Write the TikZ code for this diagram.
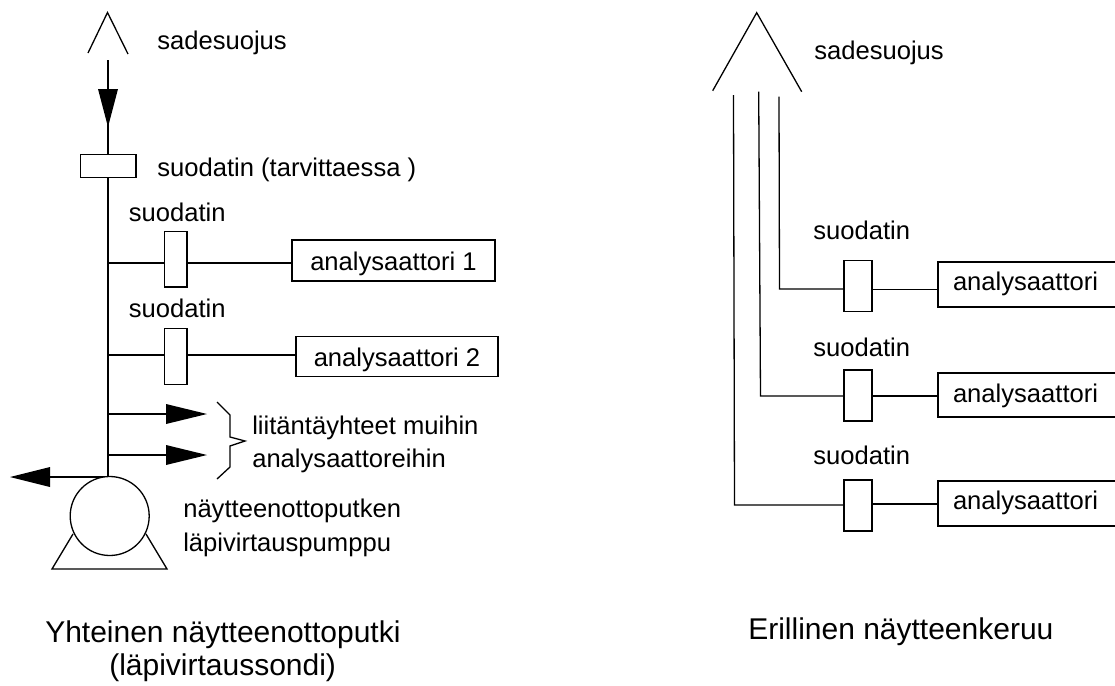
\documentclass[tikz,border=0pt]{standalone}
\usepackage{fontspec}
\setmainfont{Liberation Sans}
\newcommand{\smallfs}{\fontsize{19.2pt}{23pt}\selectfont}
\newcommand{\bigfs}{\fontsize{22.5pt}{27pt}\selectfont}
\tikzset{
  pipe/.style={draw=black,line width=1.5*0.75pt,line join=miter},
  thin pipe/.style={draw=black,line width=1.3*0.75pt,line join=miter},
  head/.style={fill=black,draw=none},
  txt/.style={anchor=base west,inner sep=0pt,font=\smallfs,text=black},
  caption/.style={anchor=base west,inner sep=0pt,font=\bigfs,text=black},
  filterbox/.style={draw=black,fill=white,line width=1.3*0.75pt,rectangle,inner sep=0pt,minimum width=22.5*0.75pt,minimum height=55.5*0.75pt},
  filterboxr/.style={draw=black,fill=white,line width=1.3*0.75pt,rectangle,inner sep=0pt,minimum width=28*0.75pt,minimum height=51*0.75pt},
  anabox/.style={draw=black,fill=white,line width=1.3*0.75pt,rectangle,inner xsep=0pt,inner ysep=0pt,font=\smallfs,text=black,align=center},
  anaboxr/.style={anabox,inner xsep=15*0.75pt,text width=150*0.75pt,align=left},
}
\begin{document}
\begin{tikzpicture}[x=0.75pt,y=-0.75pt]
\useasboundingbox (0,0) rectangle (1115,686);
\fill[white] (0,0) rectangle (1115,686);
% ---- left
\coordinate (capL) at (88,53);\coordinate (capT) at (107.5,12.5);\coordinate (capR) at (128,54);
\draw[thin pipe] (capL) -- (capT) -- (capR);
\coordinate (top) at (108,60);
\coordinate (pumptop) at (108,477);
\draw[pipe] (top) -- (pumptop);
\fill[head] (98,89) -- (118,89) -- (108,127) -- cycle;
\node[draw=black,fill=white,line width=1.3*0.75pt,rectangle,inner sep=0pt,minimum width=55.5*0.75pt,minimum height=22.5*0.75pt] (f0) at (108.3,166) {};
\node[txt] (t1) at (157,49) {sadesuojus};
\node[txt] (t2) at (157,176) {suodatin (tarvittaessa )};
\node[txt] (t3) at (128.5,221) {suodatin};
\node[txt] (t4) at (128.5,317.5) {suodatin};
\node[filterbox] (f1) at (175.7,259.3) {};
\node[filterbox] (f2) at (175.7,356.5) {};
\node[anabox,minimum width=203*0.75pt,text height=30.5*0.75pt,text depth=10.5*0.75pt] (a1) at (393.5,260.5) {analysaattori 1};
\node[anabox,minimum width=202*0.75pt,text height=29.5*0.75pt,text depth=10.5*0.75pt] (a2) at (397,356.5) {analysaattori 2};
\coordinate (j1) at (108,263);\coordinate (j2) at (108,355);
\draw[pipe] (j1) -- (j1 -| f1.west);
\draw[pipe] (f1.east |- j1) -- (j1 -| a1.west);
\draw[pipe] (j2) -- (j2 -| f2.west);
\draw[pipe] (f2.east |- j2) -- (j2 -| a2.west);
\coordinate (o1) at (108,414);\coordinate (o2) at (108,455);\coordinate (o3) at (108,477);
\draw[pipe] (o1) -- ++(65,0);
\fill[head] (166,404) -- (207,414) -- (166,424) -- cycle;
\draw[pipe] (o2) -- ++(65,0);
\fill[head] (166,445) -- (207,455) -- (166,465) -- cycle;
\draw[pipe] (o3) -- ++(-65,0);
\fill[head] (50,467) -- (10,477) -- (50,487) -- cycle;
\draw[thin pipe] (217,402) -- (230,415) -- (230,437) -- (245,441) -- (230,446) -- (230,467) -- (217,479);
\node[txt] (t5) at (252,434) {liitäntäyhteet muihin};
\node[txt] (t6) at (252,467) {analysaattoreihin};
\draw[thin pipe] (73,534) -- (52,569) -- (167,569) -- (146,534);
\node[draw=black,fill=white,line width=1.3*0.75pt,circle,inner sep=0pt,minimum size=79*0.75pt] (pump) at (109.7,516) {};
\node[txt] (t7) at (183,517) {näytteenottoputken};
\node[txt] (t8) at (183,551) {läpivirtauspumppu};
\node[caption] (c1) at (45,642) {Yhteinen näytteenottoputki};
\node[caption] (c2) at (109,675) {(läpivirtaussondi)};
% ---- right
\coordinate (rL) at (712.7,90.7);\coordinate (rT) at (756.7,12.7);\coordinate (rR) at (801.7,91.7);
\draw[thin pipe] (rL) -- (rT) -- (rR);
\node[txt] (r0) at (814,59) {sadesuojus};
\node[txt] (r1) at (813,239) {suodatin};
\node[txt] (r2) at (813,356) {suodatin};
\node[txt] (r3) at (813,464) {suodatin};
\node[filterboxr] (g1) at (858,286) {};
\node[filterboxr] (g2) at (858,395.5) {};
\node[filterboxr] (g3) at (858,505.5) {};
\node[anaboxr,text height=28.7*0.75pt,text depth=16.3*0.75pt] (b1) at (1028,284.5) {analysaattori};
\node[anaboxr,text height=29*0.75pt,text depth=15*0.75pt] (b2) at (1028,395) {analysaattori};
\node[anaboxr,text height=28*0.75pt,text depth=17*0.75pt] (b3) at (1028,503.5) {analysaattori};
\coordinate (p1t) at (779,96.7);\coordinate (p1b) at (779.5,289);
\coordinate (p2t) at (758.7,91.7);\coordinate (p2b) at (760.5,396);
\coordinate (p3t) at (733.5,95);\coordinate (p3b) at (734.5,505);
\draw[thin pipe] (p1t) -- (p1b) -- (g1.west |- p1b);
\draw[thin pipe] (p2t) -- (p2b) -- (g2.west |- p2b);
\draw[thin pipe] (p3t) -- (p3b) -- (g3.west |- p3b);
\draw[thin pipe] (g1.east |- 0,289.5) -- (b1.west |- 0,289.5);
\draw[thin pipe] (g2.east |- 0,396) -- (b2.west |- 0,396);
\draw[thin pipe] (g3.east |- 0,504) -- (b3.west |- 0,504);
\node[caption] (c3) at (748,639) {Erillinen näytteenkeruu};
\end{tikzpicture}
\end{document}
